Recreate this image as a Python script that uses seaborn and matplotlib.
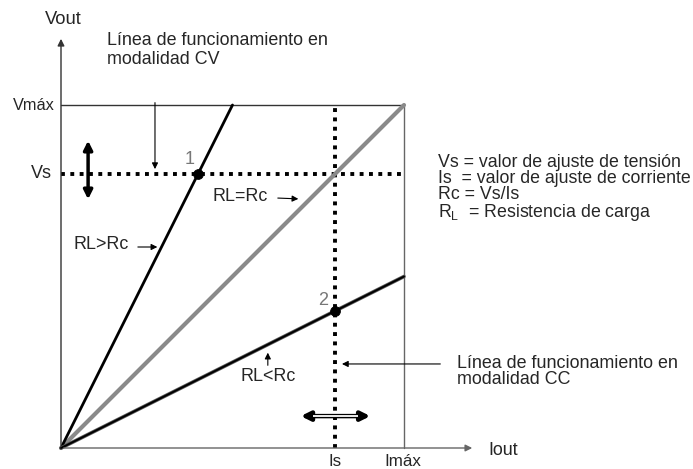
import matplotlib
matplotlib.use("Agg")
import matplotlib.pyplot as plt
import seaborn as sns
import pandas as pd

sns.set_theme(style="white")
plt.rcParams['font.family'] = ['Liberation Sans', 'DejaVu Sans']

# operating limits (normalised: Imax = Vmax = 1)
i_max, v_max = 1.0, 1.0
i_s, v_s = 0.8, 0.8

# load lines (start at origin, end at box edge)
rl_gt_x, rl_gt_y = [0.0, 0.5], [0.0, 1.0]   # RL > Rc
rl_eq_x, rl_eq_y = [0.0, 1.0], [0.0, 1.0]   # RL = Rc
rl_lt_x, rl_lt_y = [0.0, 1.0], [0.0, 0.5]   # RL < Rc

# operating points
op_x = [0.4, 0.8]
op_y = [0.8, 0.4]
op_labels = ["1", "2"]

legend_lines = [
    "Vs = valor de ajuste de tensión",
    "Is  = valor de ajuste de corriente",
    "Rc = Vs/Is",
    "R$_\\mathregular{L}$  = Resistencia de carga",
]

fig = plt.figure(figsize=(6.93, 4.69), dpi=100)
ax = fig.add_axes([0, 0, 1, 1])
ax.set_xlim(-61 / 343, 632 / 343)
ax.set_ylim(-21 / 343, 448 / 343)
ax.axis("off")
fig.canvas.draw()
renderer = fig.canvas.get_renderer()


def fit(t, width_px):
    # scale the font so the text is as wide as in the reference
    w = t.get_window_extent(renderer).width
    t.set_fontsize(t.get_fontsize() * width_px / w)
    return t


arrow_thin = dict(arrowstyle="-|>", color="black", lw=0.8, mutation_scale=9)

# axes with arrows
ax.annotate("", xy=(0, 1.201), xytext=(0, 0),
            arrowprops=dict(arrowstyle="-|>", color="#333333", lw=1.0, mutation_scale=10))
ax.annotate("", xy=(1.207, 0), xytext=(0, 0),
            arrowprops=dict(arrowstyle="-|>", color="#666666", lw=1.0, mutation_scale=10))

# Vmax / Imax box
sns.lineplot(x=[0, i_max], y=[v_max, v_max], ax=ax, color="#333333", lw=1.0)
sns.lineplot(x=[i_max, i_max], y=[0, v_max], ax=ax, color="#666666", lw=1.0, orient="y")

# Vs / Is dotted set lines
sns.lineplot(x=[0, i_max], y=[v_s, v_s], ax=ax, color="black", lw=2.8,
             linestyle=(0, (1, 1.4)))
sns.lineplot(x=[i_s, i_s], y=[0, v_max], ax=ax, color="black", lw=2.8,
             linestyle=(0, (1, 1.4)), orient="y")

# load lines
sns.lineplot(x=rl_eq_x, y=rl_eq_y, ax=ax, color="#8a8a8a", lw=3.0)
sns.lineplot(x=rl_gt_x, y=rl_gt_y, ax=ax, color="black", lw=2.0)
sns.lineplot(x=rl_lt_x, y=rl_lt_y, ax=ax, color="#555555", lw=2.6)
sns.lineplot(x=rl_lt_x, y=rl_lt_y, ax=ax, color="black", lw=1.4)

# operating points
pts = pd.DataFrame({"x": op_x, "y": op_y, "label": op_labels})
sns.scatterplot(data=pts, x="x", y="y", ax=ax, color="black", s=50, edgecolor="black", zorder=5)
label_pos = [(0.376, 0.84), (0.764, 0.431)]
for (lx, ly), lab in zip(label_pos, pts["label"]):
    ax.text(lx, ly, lab, color="#777777", fontsize=13, ha="center", va="center")

# axis labels
fit(ax.text(-0.047, 1.248, "Vout", fontsize=12, ha="left", va="center"), 37)
fit(ax.text(1.245, -0.006, "Iout", fontsize=12, ha="left", va="center"), 30)
fit(ax.text(-0.0175, v_max, "Vmáx", fontsize=12, ha="right", va="center"), 42)
fit(ax.text(-0.026, v_s, "Vs", fontsize=12, ha="right", va="center"), 21)
fit(ax.text(i_s - 0.002, -0.052, "Is", fontsize=12, ha="center", va="baseline"), 13)
fit(ax.text(i_max - 0.003, -0.052, "Imáx", fontsize=12, ha="center", va="baseline"), 37)

# CV mode note
fit(ax.text(0.134, 1.160, "Línea de funcionamiento en\nmodalidad CV", fontsize=12,
            ha="left", va="center", linespacing=1.1), 221)
ax.annotate("", xy=(0.274, 0.805), xytext=(0.274, 1.015), arrowprops=arrow_thin)

# CC mode note
fit(ax.text(1.155, 0.223, "Línea de funcionamiento en\nmodalidad CC", fontsize=12,
            ha="left", va="center", linespacing=0.95), 221)
ax.annotate("", xy=(0.811, 0.245), xytext=(1.114, 0.245), arrowprops=arrow_thin)

# load line labels
fit(ax.text(0.443, 0.732, "RL=Rc", fontsize=12, ha="left", va="center"), 55)
ax.annotate("", xy=(0.70, 0.726), xytext=(0.624, 0.729), arrowprops=arrow_thin)
fit(ax.text(0.035, 0.592, "RL>Rc", fontsize=12, ha="left", va="center"), 55)
ax.annotate("", xy=(0.289, 0.586), xytext=(0.216, 0.586), arrowprops=arrow_thin)
fit(ax.text(0.522, 0.207, "RL<Rc", fontsize=12, ha="left", va="center"), 55)
ax.annotate("", xy=(0.603, 0.286), xytext=(0.603, 0.233), arrowprops=arrow_thin)

# adjustment arrows
ax.annotate("", xy=(0.079, 0.904), xytext=(0.079, 0.717),
            arrowprops=dict(arrowstyle="<|-|>", color="black", lw=2.5, mutation_scale=13))
ax.annotate("", xy=(0.910, 0.093), xytext=(0.691, 0.093),
            arrowprops=dict(arrowstyle="<|-|>", color="black", lw=3.2, mutation_scale=13))
ax.plot([0.735, 0.866], [0.093, 0.093], color="white", lw=1.3,
        solid_capstyle="butt", zorder=10)

# legend text block, one text so the lines sit tight like the reference
leg = ax.text(1.099, 0.757, "\n".join(legend_lines), fontsize=12,
              ha="left", va="center", linespacing=0.92)
w0 = ax.text(0, 0, legend_lines[0], fontsize=12)
scale = 244 / w0.get_window_extent(renderer).width
w0.remove()
leg.set_fontsize(12 * scale)

fig.savefig("out.png", dpi=100)
